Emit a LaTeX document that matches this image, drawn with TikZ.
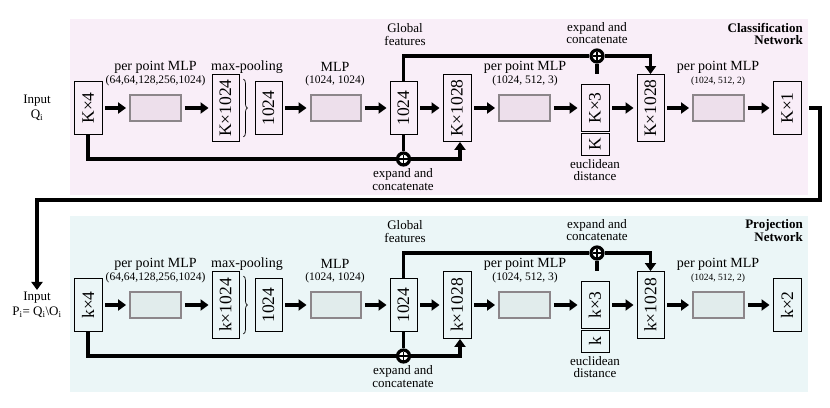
\documentclass[tikz,border=0pt]{standalone}
\usepackage{fontspec}
\usepackage{graphicx}
\setmainfont{Liberation Serif}
\usetikzlibrary{arrows.meta,decorations.pathreplacing}
\definecolor{clsbg}{HTML}{F9EEF8}
\definecolor{clsbox}{HTML}{EDDFEB}
\definecolor{prjbg}{HTML}{EBF6F7}
\definecolor{prjbox}{HTML}{E1ECEC}
\definecolor{boxline}{HTML}{8C868A}
\begin{document}
\begin{tikzpicture}[x=1pt, y=-1pt,
  dim/.style={draw, line width=0.9pt, inner sep=0pt, minimum width=27pt, font=\fontsize{17.5}{17.5}\selectfont},
  mlp/.style={draw=boxline, line width=2.4pt, minimum width=50.5pt, minimum height=26.5pt},
  lbl/.style={font=\fontsize{13}{15}\selectfont, inner sep=1pt},
  hdr/.style={font=\fontsize{14}{16}\selectfont, inner sep=1pt},
  par/.style={font=\fontsize{11.5}{13}\selectfont, inner sep=1pt},
  spar/.style={font=\fontsize{9.5}{11}\selectfont, inner sep=1pt},
  ttl/.style={font=\fontsize{13}{15}\selectfont\bfseries, inner sep=1pt, anchor=east},
  wire/.style={line width=3.2pt},
  flow/.style={line width=3.2pt, -{Triangle[length=8pt,width=11pt]}},
  plus/.style={circle, draw, fill=white, line width=3.2pt, minimum size=12pt, inner sep=0pt,
    path picture={\draw[line width=1.8pt] (path picture bounding box.center) +(-4.5,0) -- +(4.5,0)
      (path picture bounding box.center) +(0,-4.5) -- +(0,4.5);}},
  brc/.style={line width=0.7pt, decorate, decoration={brace, amplitude=4pt}}]
  \useasboundingbox (0,0) rectangle (830,407);
  \fill[clsbg] (70,19) rectangle (808,195);
  \fill[prjbg] (70,216) rectangle (808,392);

  % classification network
  \node[lbl, align=center] (cin) at (37,108) {Input\\Q\textsubscript{i}};
  \node[dim, minimum width=28pt, minimum height=53pt] (c4) at (88,108) {\rotatebox{90}{K×4}};
  \node[mlp, fill=clsbox] (cm1) at (155.5,108) {};
  \node[hdr] (cm1a) at (155.5,67) {per point MLP};
  \node[par] (cm1b) at (155.5,81) {(64,64,128,256,1024)};
  \node[dim, minimum height=67pt] (cpool) at (225.5,108) {\rotatebox{90}{K×1024}};
  \node[hdr] (cpoola) at (247,67) {max-pooling};
  \node[dim, minimum height=53pt] (cmax) at (268.5,108) {\rotatebox{90}{1024}};
  \node[mlp, fill=clsbox] (cm2) at (336,108) {};
  \node[hdr] (cm2a) at (335,67) {MLP};
  \node[par] (cm2b) at (335,81) {(1024, 1024)};
  \node[dim, minimum height=53pt] (cglob) at (403.5,108) {\rotatebox{90}{1024}};
  \node[lbl] (cgloba) at (405,28) {Global};
  \node[lbl] (cglobb) at (405,41) {features};
  \node[dim, minimum width=28pt, minimum height=67pt] (ccat1) at (457,108) {\rotatebox{90}{K×1028}};
  \node[mlp, fill=clsbox] (cm3) at (524.5,108) {};
  \node[hdr] (cm3a) at (525,67) {per point MLP};
  \node[par] (cm3b) at (525,81) {(1024, 512, 3)};
  \node[dim, minimum width=28pt, minimum height=47pt] (cxyz) at (595,108) {\rotatebox{90}{K×3}};
  \node[dim, minimum width=28pt, minimum height=22pt] (cdist) at (595,144.5) {\rotatebox{90}{K}};
  \node[lbl] (cdista) at (595,164) {euclidean};
  \node[lbl] (cdistb) at (595,176) {distance};
  \node[dim, minimum height=67pt] (ccat2) at (650.5,108) {\rotatebox{90}{K×1028}};
  \node[mlp, fill=clsbox] (cm4) at (718.5,108) {};
  \node[hdr] (cm4a) at (718,67) {per point MLP};
  \node[spar] (cm4b) at (718,81) {(1024, 512, 2)};
  \node[dim, minimum width=28pt, minimum height=53pt] (cout) at (787,108) {\rotatebox{90}{K×1}};
  \node[ttl] (cttla) at (804,28) {Classification};
  \node[ttl] (cttlb) at (804,40) {Network};
  \node[plus] (cplus1) at (403.5,159) {};
  \node[lbl] (cplus1a) at (403,174) {expand and};
  \node[lbl] (cplus1b) at (403,187) {concatenate};
  \node[plus] (cplus2) at (597,56) {};
  \node[lbl] (cplus2a) at (597,28) {expand and};
  \node[lbl] (cplus2b) at (597,40) {concatenate};

  \draw[flow, shorten <=3pt, shorten >=3pt] (c4) -- (cm1);
  \draw[flow, shorten <=3pt, shorten >=3pt] (cm1) -- (cpool);
  \draw[brc] ([xshift=4pt,yshift=-5pt]cpool.north east) -- ([xshift=4pt,yshift=5pt]cpool.south east);
  \draw[flow, shorten <=3pt, shorten >=3pt] (cmax) -- (cm2);
  \draw[flow, shorten <=3pt, shorten >=3pt] (cm2) -- (cglob);
  \draw[flow, shorten <=3pt, shorten >=3pt] (cglob) -- (ccat1);
  \draw[flow, shorten <=3pt, shorten >=3pt] (ccat1) -- (cm3);
  \draw[flow, shorten <=3pt, shorten >=3pt] (cm3) -- (cxyz);
  \draw[flow, shorten <=3pt, shorten >=3pt] (cxyz) -- (ccat2);
  \draw[flow, shorten <=3pt, shorten >=3pt] (ccat2) -- (cm4);
  \draw[flow, shorten <=3pt, shorten >=3pt] (cm4) -- (cout);
  \draw[wire] (c4) |- (cplus1);
  \draw[wire] (cglob) -- (cplus1);
  \draw[flow] (cplus1) -| ([xshift=3pt]ccat1.south);
  \draw[wire] (cglob) |- (cplus2);
  \draw[flow] (cplus2) -| (ccat2);
  \draw[wire, shorten >=10pt] (cplus2) -- (cplus2 |- cxyz.north);

  % projection network
  \node[lbl, align=center] (pin) at (37,305) {Input\\P\textsubscript{i}= Q\textsubscript{i}\textbackslash O\textsubscript{i}};
  \node[dim, minimum width=28pt, minimum height=53pt] (p4) at (88,305) {\rotatebox{90}{k×4}};
  \node[mlp, fill=prjbox] (pm1) at (155.5,305) {};
  \node[hdr] (pm1a) at (155.5,264) {per point MLP};
  \node[par] (pm1b) at (155.5,278) {(64,64,128,256,1024)};
  \node[dim, minimum height=67pt] (ppool) at (225.5,305) {\rotatebox{90}{k×1024}};
  \node[hdr] (ppoola) at (247,264) {max-pooling};
  \node[dim, minimum height=53pt] (pmax) at (268.5,305) {\rotatebox{90}{1024}};
  \node[mlp, fill=prjbox] (pm2) at (336,305) {};
  \node[hdr] (pm2a) at (335,264) {MLP};
  \node[par] (pm2b) at (335,278) {(1024, 1024)};
  \node[dim, minimum height=53pt] (pglob) at (403.5,305) {\rotatebox{90}{1024}};
  \node[lbl] (pgloba) at (405,225) {Global};
  \node[lbl] (pglobb) at (405,238) {features};
  \node[dim, minimum width=28pt, minimum height=67pt] (pcat1) at (457,305) {\rotatebox{90}{k×1028}};
  \node[mlp, fill=prjbox] (pm3) at (524.5,305) {};
  \node[hdr] (pm3a) at (525,264) {per point MLP};
  \node[par] (pm3b) at (525,278) {(1024, 512, 3)};
  \node[dim, minimum width=28pt, minimum height=47pt] (pxyz) at (595,305) {\rotatebox{90}{k×3}};
  \node[dim, minimum width=28pt, minimum height=22pt] (pdist) at (595,341.5) {\rotatebox{90}{k}};
  \node[lbl] (pdista) at (595,361) {euclidean};
  \node[lbl] (pdistb) at (595,373) {distance};
  \node[dim, minimum height=67pt] (pcat2) at (650.5,305) {\rotatebox{90}{k×1028}};
  \node[mlp, fill=prjbox] (pm4) at (718.5,305) {};
  \node[hdr] (pm4a) at (718,264) {per point MLP};
  \node[spar] (pm4b) at (718,278) {(1024, 512, 2)};
  \node[dim, minimum width=28pt, minimum height=53pt] (pout) at (787,305) {\rotatebox{90}{k×2}};
  \node[ttl] (pttla) at (804,225) {Projection};
  \node[ttl] (pttlb) at (804,237) {Network};
  \node[plus] (pplus1) at (403.5,356) {};
  \node[lbl] (pplus1a) at (403,371) {expand and};
  \node[lbl] (pplus1b) at (403,384) {concatenate};
  \node[plus] (pplus2) at (597,253) {};
  \node[lbl] (pplus2a) at (597,225) {expand and};
  \node[lbl] (pplus2b) at (597,237) {concatenate};

  \draw[flow, shorten <=3pt, shorten >=3pt] (p4) -- (pm1);
  \draw[flow, shorten <=3pt, shorten >=3pt] (pm1) -- (ppool);
  \draw[brc] ([xshift=4pt,yshift=-5pt]ppool.north east) -- ([xshift=4pt,yshift=5pt]ppool.south east);
  \draw[flow, shorten <=3pt, shorten >=3pt] (pmax) -- (pm2);
  \draw[flow, shorten <=3pt, shorten >=3pt] (pm2) -- (pglob);
  \draw[flow, shorten <=3pt, shorten >=3pt] (pglob) -- (pcat1);
  \draw[flow, shorten <=3pt, shorten >=3pt] (pcat1) -- (pm3);
  \draw[flow, shorten <=3pt, shorten >=3pt] (pm3) -- (pxyz);
  \draw[flow, shorten <=3pt, shorten >=3pt] (pxyz) -- (pcat2);
  \draw[flow, shorten <=3pt, shorten >=3pt] (pcat2) -- (pm4);
  \draw[flow, shorten <=3pt, shorten >=3pt] (pm4) -- (pout);
  \draw[wire] (p4) |- (pplus1);
  \draw[wire] (pglob) -- (pplus1);
  \draw[flow] (pplus1) -| ([xshift=3pt]pcat1.south);
  \draw[wire] (pglob) |- (pplus2);
  \draw[flow] (pplus2) -| (pcat2);
  \draw[wire, shorten >=10pt] (pplus2) -- (pplus2 |- pxyz.north);

  % from the classification output to the projection input
  \coordinate (turn) at (820,200);
  \draw[flow, shorten <=8pt, shorten >=1pt] (cout) -| (turn) -| (pin);
\end{tikzpicture}
\end{document}
